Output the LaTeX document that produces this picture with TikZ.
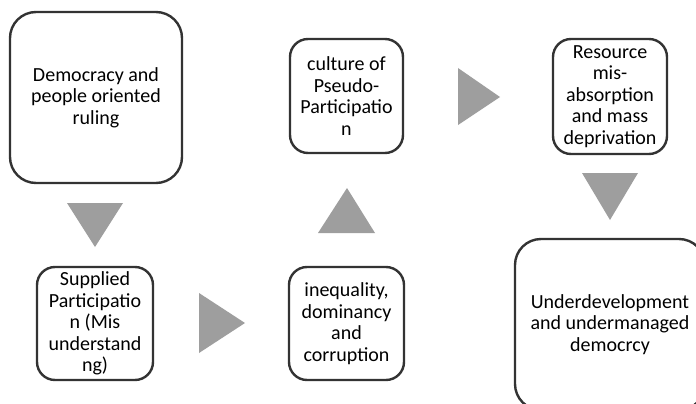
\documentclass[tikz,border=0pt]{standalone}
\usepackage{fontspec}
\setmainfont{Carlito}
\definecolor{boxline}{HTML}{333333}
\definecolor{arrowgray}{HTML}{9E9E9E}
\begin{document}
\begin{tikzpicture}[x=1pt,y=-1pt,
  stage/.style={draw=boxline, line width=2.4pt, rounded corners=18pt, fill=white,
    align=center, inner sep=0pt, font=\fontsize{20}{21.5}\selectfont},
  bigstage/.style={stage, rounded corners=26pt},
  flowhead/.style={fill=arrowgray, draw=none}]
\useasboundingbox (0,0) rectangle (696,404);
\clip (0,0) rectangle (696,404);

% stages of the cycle
\node[bigstage, minimum width=172pt, minimum height=171pt] (demo) at (96,97.5)
  {Democracy and\\people oriented\\ruling};
\node[stage, minimum width=116pt, minimum height=113pt] (supp) at (95,323.5)
  {Supplied\\Participatio\\n (Mis\\understand\\ng)};
\node[stage, minimum width=115pt, minimum height=113pt] (ineq) at (346.5,323.5)
  {inequality,\\dominancy\\and\\corruption};
\node[stage, minimum width=113pt, minimum height=114pt] (cult) at (346.5,96)
  {culture of\\Pseudo-\\Participatio\\n};
\node[stage, minimum width=114pt, minimum height=115pt] (reso) at (610,96.5)
  {Resource\\mis-\\absorption\\and mass\\deprivation};
\node[bigstage, minimum width=190pt, minimum height=171pt] (under) at (610,324.5)
  {Underdevelopment\\and undermanaged\\democrcy};

% direction markers between the stages
\fill[flowhead] (67,203) -- (123,203) -- (95,247) -- cycle;
\fill[flowhead] (199,293) -- (199,353) -- (245,323) -- cycle;
\fill[flowhead] (318,233) -- (375,233) -- (347,188) -- cycle;
\fill[flowhead] (458,68) -- (458,125) -- (500,97) -- cycle;
\fill[flowhead] (582,173) -- (638,173) -- (610,220) -- cycle;
\end{tikzpicture}
\end{document}
